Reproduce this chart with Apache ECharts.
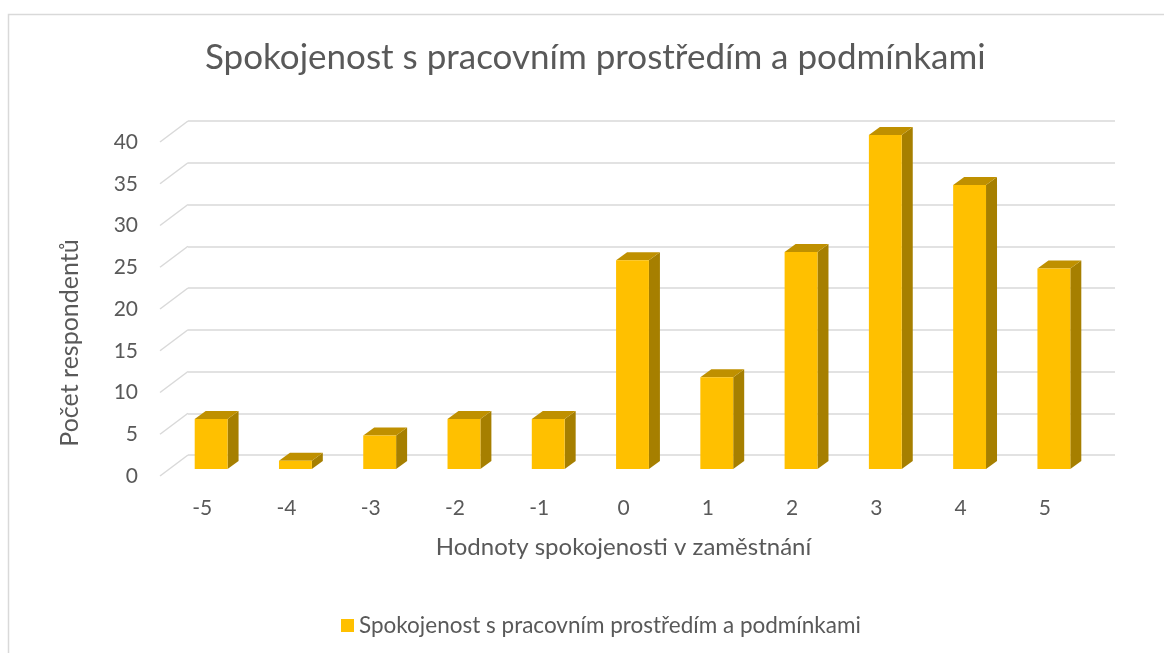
<!DOCTYPE html>
<html>
<head>
<meta charset="utf-8">
<script src="https://cdn.jsdelivr.net/npm/echarts@6/dist/echarts.min.js"></script>
<style>
  html, body { margin: 0; padding: 0; background: #fff; }
  #main { width: 1164px; height: 653px; }
</style>
</head>
<body>
<div id="main"></div>
<script>
// data
var categories = ['-5', '-4', '-3', '-2', '-1', '0', '1', '2', '3', '4', '5'];
var respondents = [6, 1, 4, 6, 6, 25, 11, 26, 40, 34, 24];
var yTicks = [0, 5, 10, 15, 20, 25, 30, 35, 40];
var seriesName = 'Spokojenost s pracovním prostředím a podmínkami';

var FONT = 'Lato';
var TXT = '#595959';

var myChart = echarts.init(document.getElementById('main'));

// hloubka 3D efektu
var DEPTH_X = 11, DEPTH_Y = -8;   // hloubka sloupce
var WALL_X = 19, WALL_Y = -14;    // zadni stena od roviny sloupcu
var FRONT_X = -9, FRONT_Y = 7;    // predni rovina (popisky)

function renderBar (params, api) {
  var i = api.value(0);
  var top = api.coord([i, api.value(1)]);
  var base = api.coord([i, 0]);
  var w = api.size([1, 0])[0] * 0.39;
  var x0 = top[0] - w / 2, x1 = top[0] + w / 2;
  var yt = top[1], yb = base[1];
  return {
    type: 'group',
    children: [
      {
        type: 'polygon',
        shape: { points: [[x1, yt], [x1 + DEPTH_X, yt + DEPTH_Y], [x1 + DEPTH_X, yb + DEPTH_Y], [x1, yb]] },
        style: { fill: '#A67F00' }
      },
      {
        type: 'polygon',
        shape: { points: [[x0, yt], [x0 + DEPTH_X, yt + DEPTH_Y], [x1 + DEPTH_X, yt + DEPTH_Y], [x1, yt]] },
        style: { fill: '#BF9000' }
      },
      {
        type: 'rect',
        shape: { x: x0, y: yt, width: w, height: yb - yt },
        style: { fill: '#FFC000' }
      }
    ]
  };
}

// diagonaly na leve strane (zadni stena -> predni rovina)
function renderDiag (params, api) {
  var p = api.coord([0, api.value(0)]);
  var x = params.coordSys.x;
  return {
    type: 'line',
    shape: { x1: x, y1: p[1], x2: x + (FRONT_X - WALL_X), y2: p[1] + (FRONT_Y - WALL_Y) },
    style: { stroke: '#D9D9D9', lineWidth: 1.5 }
  };
}

var option = {
  backgroundColor: '#fff',
  animation: false,
  title: {
    text: 'Spokojenost s pracovním prostředím a podmínkami',
    left: 200,
    top: 35,
    textStyle: { fontFamily: FONT, fontWeight: 'normal', fontSize: 35, color: TXT }
  },
  legend: {
    top: 609,
    left: 336,
    itemWidth: 13,
    itemHeight: 13,
    itemGap: 3,
    icon: 'rect',
    textStyle: { fontFamily: FONT, fontSize: 22.5, color: TXT },
    data: [{ name: seriesName, itemStyle: { color: '#FFC000' } }]
  },
  graphic: [
    {
      type: 'rect',
      shape: { x: 8.5, y: 14.5, width: 1170, height: 660 },
      style: { fill: 'none', stroke: '#D9D9D9', lineWidth: 1.5 },
      silent: true
    }
  ],
  grid: [
    // zadni stena
    { left: 188, top: 121, width: 927, height: 334 },
    // predni rovina
    { left: 160, top: 142, width: 927, height: 334 },
    // rovina sloupcu
    { left: 169, top: 135, width: 927, height: 334 }
  ],
  xAxis: [
    { gridIndex: 0, type: 'category', data: categories, show: false },
    {
      gridIndex: 1, type: 'category', data: categories,
      axisLine: { show: false }, axisTick: { show: false },
      axisLabel: { fontFamily: FONT, fontSize: 21, color: TXT, margin: 22 },
      name: 'Hodnoty spokojenosti v zaměstnání',
      nameLocation: 'middle', nameGap: 59,
      nameTextStyle: { fontFamily: FONT, fontSize: 24, color: TXT }
    },
    { gridIndex: 2, type: 'category', data: categories, show: false }
  ],
  yAxis: [
    {
      gridIndex: 0, type: 'value', min: 0, max: 40, interval: 5,
      axisLabel: { show: false }, axisLine: { show: false }, axisTick: { show: false },
      splitLine: { lineStyle: { color: '#D9D9D9', width: 1.5 } }
    },
    {
      gridIndex: 1, type: 'value', min: 0, max: 40, interval: 5,
      axisLine: { show: false }, axisTick: { show: false }, splitLine: { show: false },
      axisLabel: { fontFamily: FONT, fontSize: 21, color: TXT, margin: 22 },
      name: 'Počet respondentů',
      nameLocation: 'middle', nameGap: 78,
      nameTextStyle: { fontFamily: FONT, fontSize: 25, color: TXT, padding: [0, 68, 0, 0] }
    },
    { gridIndex: 2, type: 'value', min: 0, max: 40, show: false }
  ],
  series: [
    {
      type: 'custom',
      xAxisIndex: 0, yAxisIndex: 0,
      silent: true,
      renderItem: renderDiag,
      data: yTicks.map(function (v) { return [v]; }),
      encode: { y: 0 }
    },
    {
      name: seriesName,
      type: 'custom',
      xAxisIndex: 2, yAxisIndex: 2,
      renderItem: renderBar,
      itemStyle: { color: '#FFC000' },
      data: respondents.map(function (v, i) { return [i, v]; }),
      encode: { x: 0, y: 1 }
    }
  ]
};

myChart.setOption(option);
</script>
</body>
</html>
